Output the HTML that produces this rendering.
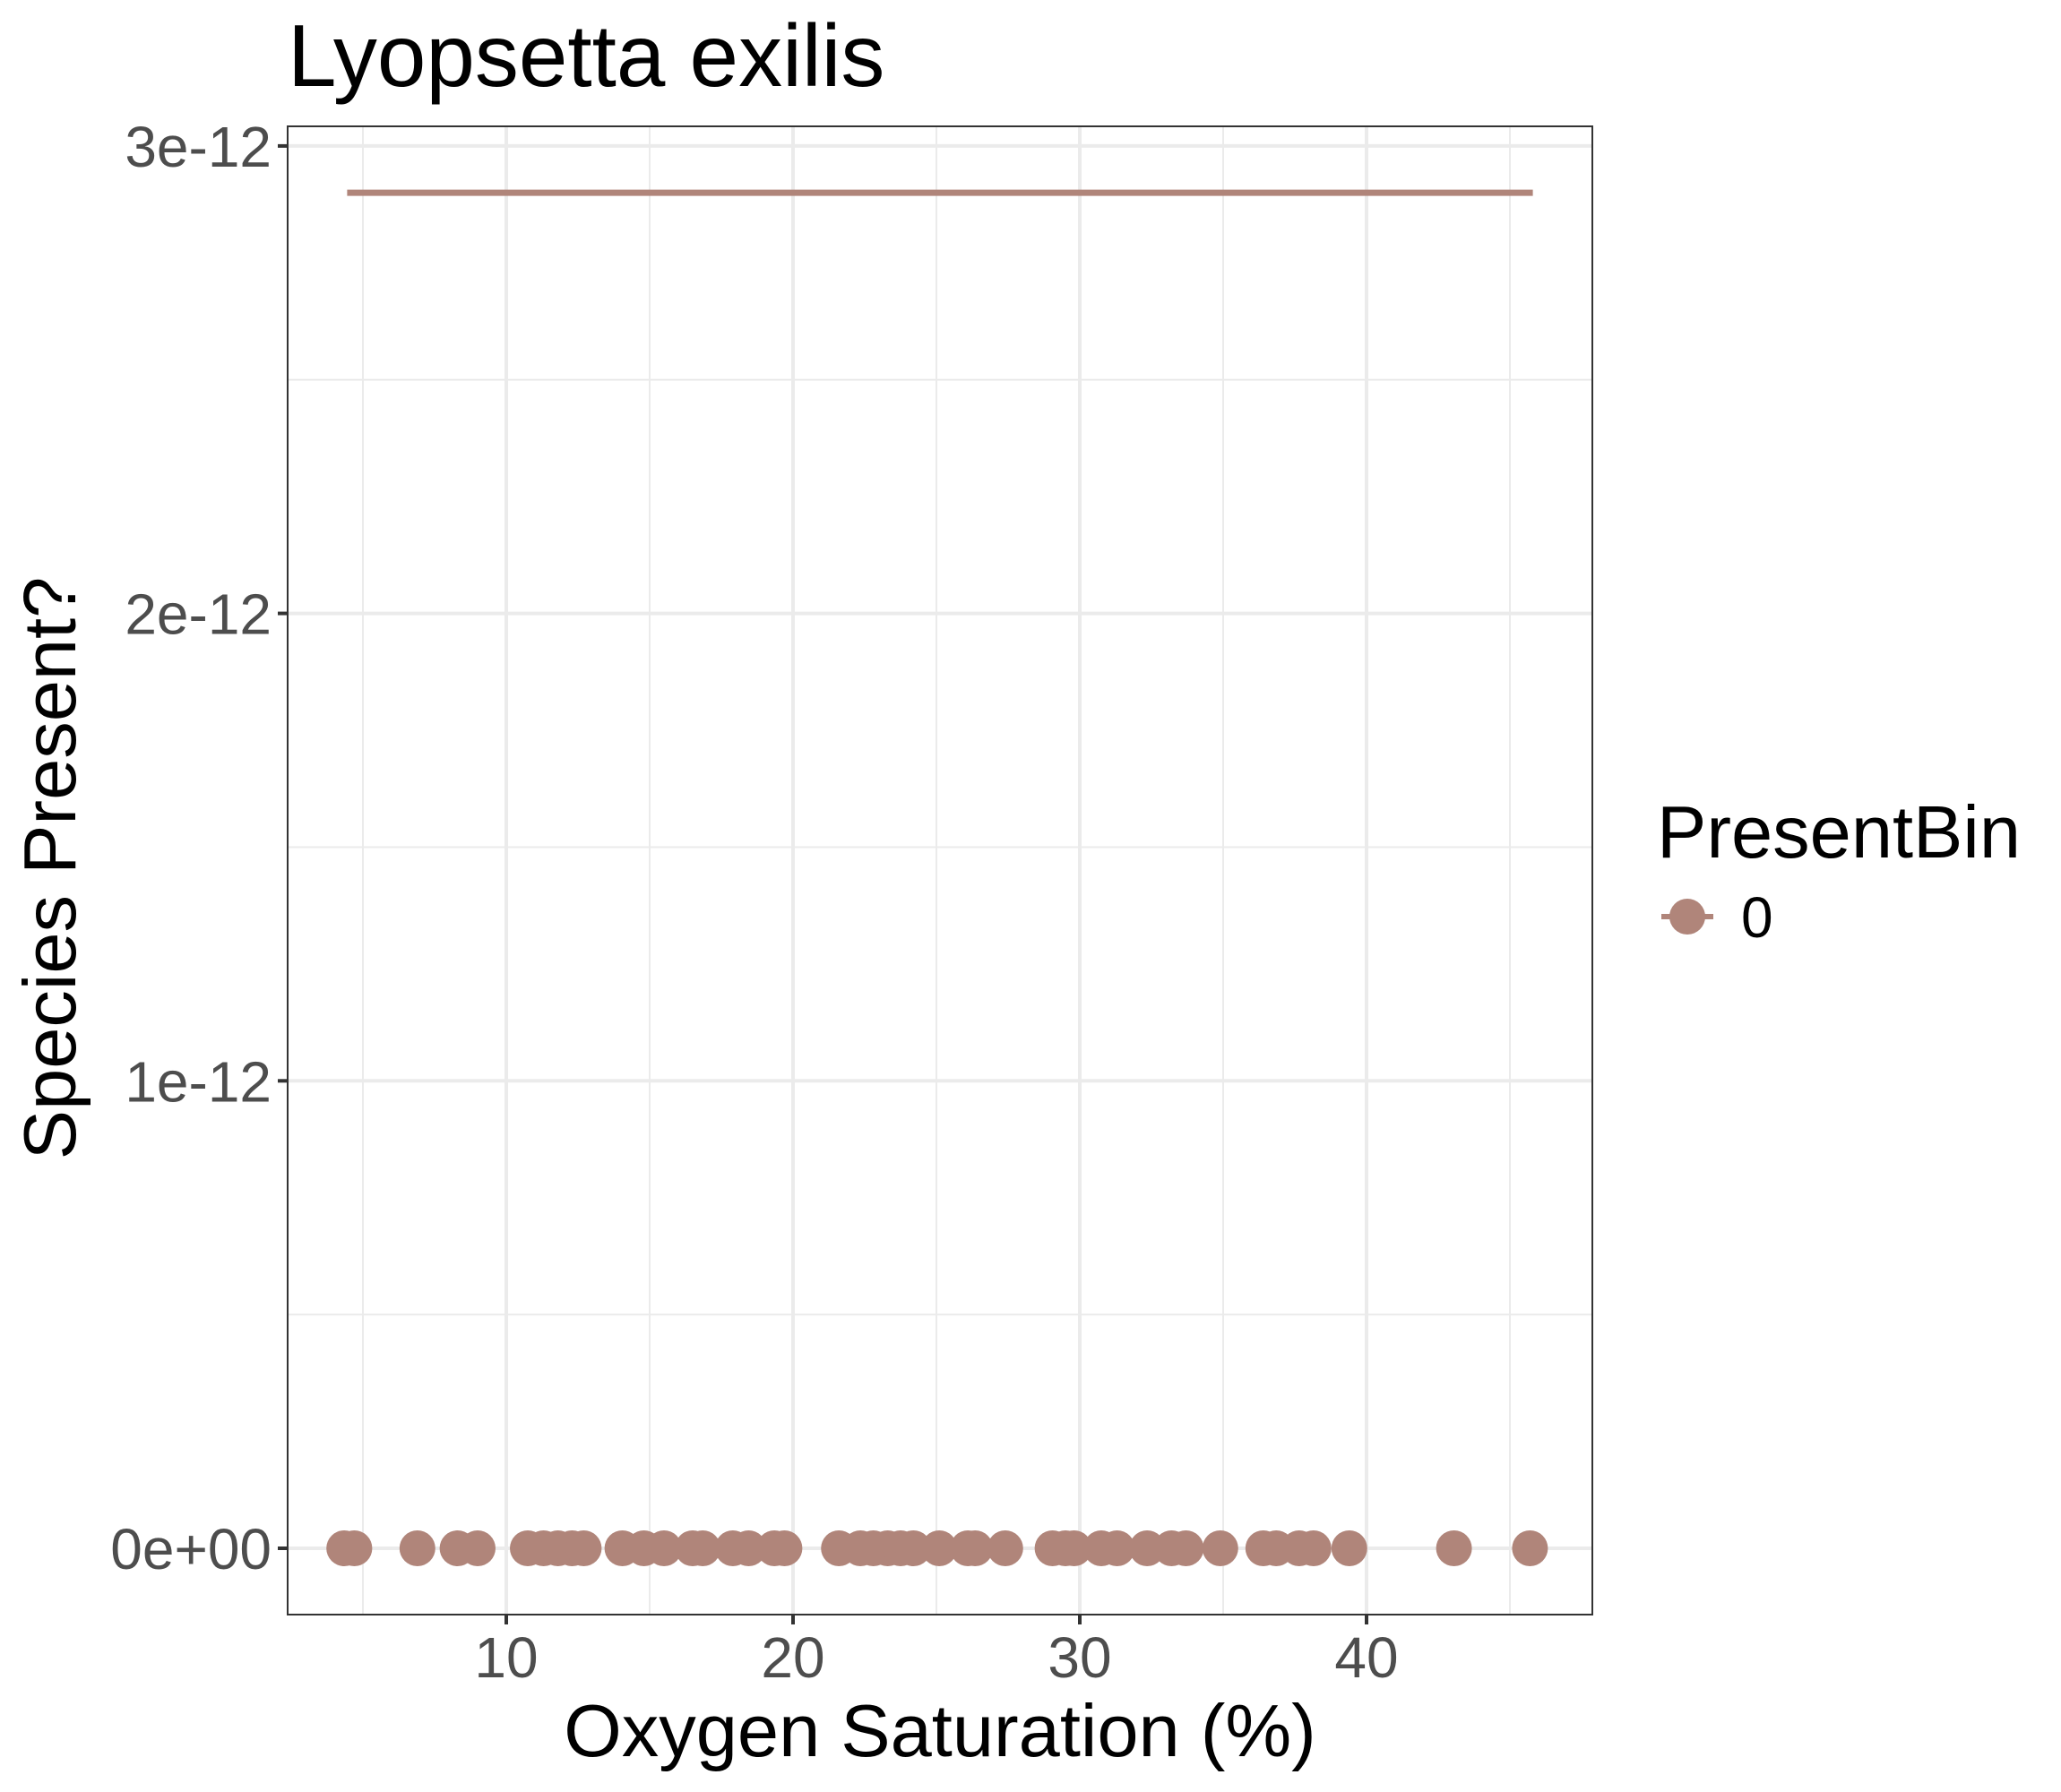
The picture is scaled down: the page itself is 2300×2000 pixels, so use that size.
<!DOCTYPE html>
<html><head><meta charset="utf-8"><style>
html,body{margin:0;padding:0;background:#fff}
svg{display:block;font-family:"Liberation Sans",Arial,sans-serif}
</style></head><body>
<svg id="chart" width="2300" height="2000" viewBox="0 0 2300 2000">
<rect width="2300" height="2000" fill="#fff"/>
<g id="grid"></g>
<g id="marks"></g>
<rect x="321" y="141" width="1456" height="1661" fill="none" stroke="#333" stroke-width="2"/>
<g id="axes"></g>
<text x="321" y="96" font-size="98" fill="#000">Lyopsetta exilis</text>
<text x="1049" y="1960" font-size="83" fill="#000" text-anchor="middle">Oxygen Saturation (%)</text>
<text transform="translate(84,969) rotate(-90)" font-size="83" fill="#000" text-anchor="middle">Species Present?</text>
<g>
<text x="1849" y="957" font-size="83" fill="#000">PresentBin</text>
<line x1="1854" y1="1023" x2="1912" y2="1023" stroke="#b0857a" stroke-width="6"/>
<circle cx="1883" cy="1023" r="20" fill="#b0857a"/>
<text x="1943" y="1046" font-size="64" fill="#000">0</text>
</g>
</svg>
<script>
const xTicks = [10, 20, 30, 40];
const yTicks = [0, 1e-12, 2e-12, 3e-12];
const yTickLabels = ["0e+00", "1e-12", "2e-12", "3e-12"];
const oxygenValues = [4.35,4.7,6.9,8.3,9.0,10.75,11.3,11.8,12.3,12.7,14.05,14.8,15.5,16.5,16.85,17.9,18.45,19.35,19.7,21.6,22.35,22.8,23.3,23.75,24.2,25.1,26.1,26.35,27.4,29.05,29.5,29.8,30.75,31.3,32.35,33.2,33.7,34.9,36.4,36.85,37.65,38.15,39.4,43.05,45.7];
const presentValues = oxygenValues.map(() => 0);
const fitX = [4.45, 45.8];
const fitY = [2.9e-12, 2.9e-12];

const NS = "http://www.w3.org/2000/svg";
const L = 321, R = 1777, T = 141, B = 1802;
const xs = v => 245 + v * 32;
const ys = v => 1728 - v / 1e-12 * 521.7;
function mk(tag, attrs, parent) {
  const e = document.createElementNS(NS, tag);
  for (const k in attrs) e.setAttribute(k, attrs[k]);
  parent.appendChild(e);
  return e;
}
const grid = document.getElementById('grid');
const axes = document.getElementById('axes');
const marks = document.getElementById('marks');
for (let i = 0; i < xTicks.length + 1; i++) {
  const v = 5 + i * 10;
  const l = mk('line', {x1: xs(v), x2: xs(v), y1: T, y2: B, stroke: '#ebebeb', 'stroke-width': 2}, grid);
  
  
}
for (let i = 0; i < yTicks.length - 1; i++) {
  const v = (yTicks[i] + yTicks[i + 1]) / 2;
  const l = mk('line', {x1: L, x2: R, y1: ys(v), y2: ys(v), stroke: '#ebebeb', 'stroke-width': 2}, grid);
  
  
}
xTicks.forEach(v => {
  const g = mk('line', {x1: xs(v), x2: xs(v), y1: T, y2: B, stroke: '#ebebeb', 'stroke-width': 4}, grid);
  
  
  const t = mk('line', {x1: xs(v), x2: xs(v), y1: B, y2: B + 11, stroke: '#333', 'stroke-width': 4}, axes);
  
  
  const tx = mk('text', {x: xs(v), y: B + 70, 'font-size': 64, fill: '#4d4d4d', 'text-anchor': 'middle'}, axes);
  tx.textContent = v;
  
  
});
yTicks.forEach((v, i) => {
  const g = mk('line', {x1: L, x2: R, y1: ys(v), y2: ys(v), stroke: '#ebebeb', 'stroke-width': 4}, grid);
  
  
  const t = mk('line', {x1: L - 11, x2: L, y1: ys(v), y2: ys(v), stroke: '#333', 'stroke-width': 4}, axes);
  
  
  const tx = mk('text', {x: L - 18, y: ys(v) + 23, 'font-size': 64, fill: '#4d4d4d', 'text-anchor': 'end'}, axes);
  tx.textContent = yTickLabels[i];
  
  
});
const fit = mk('line', {x1: xs(fitX[0]), x2: xs(fitX[1]), y1: ys(fitY[0]), y2: ys(fitY[1]), stroke: '#b0857a', 'stroke-width': 7}, marks);


oxygenValues.forEach((v, i) => {
  const c = mk('circle', {cx: xs(v), cy: ys(presentValues[i]), r: 20, fill: '#b0857a'}, marks);
  
  
});
</script>
</body></html>
